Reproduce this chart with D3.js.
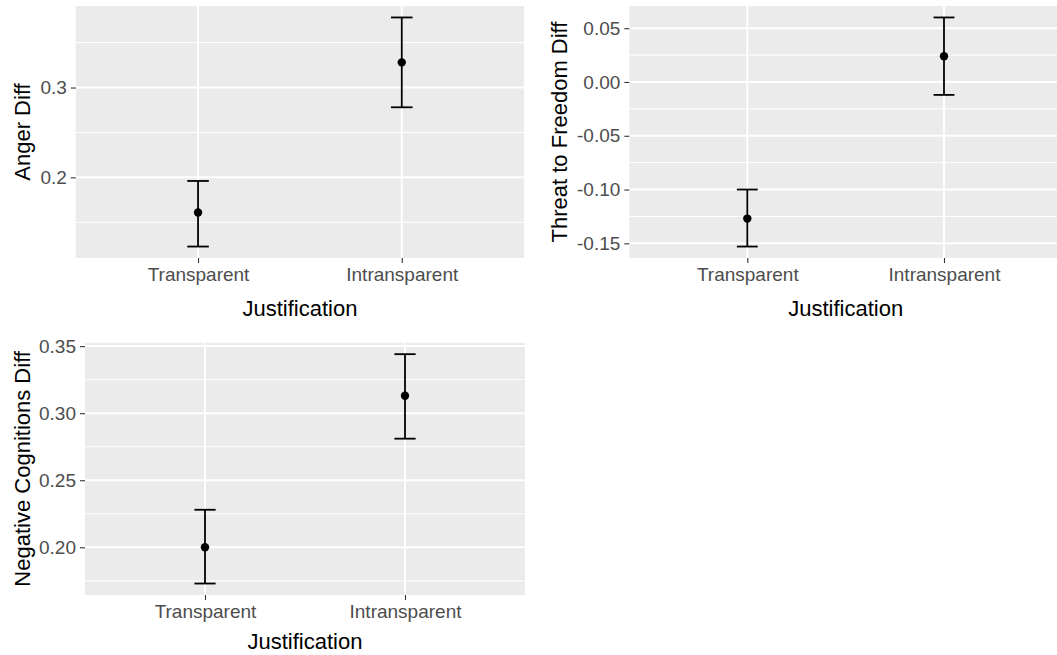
<!DOCTYPE html>
<html>
<head>
<meta charset="utf-8">
<script src="https://cdn.jsdelivr.net/npm/d3@7"></script>
<style>
  body { margin: 0; background: #fff; }
  svg { display: block; font-family: "Liberation Sans", Arial, sans-serif; }
</style>
</head>
<body>
<svg id="chart" width="1057" height="655"></svg>
<script>
// categories on the x axis (shared by all panels)
const categories = ["Transparent", "Intransparent"];

// Anger Diff
const angerMean = [0.161, 0.328];
const angerLow = [0.123, 0.278];
const angerHigh = [0.196, 0.378];
const angerTicks = [0.2, 0.3];

// Threat to Freedom Diff
const threatMean = [-0.127, 0.024];
const threatLow = [-0.153, -0.012];
const threatHigh = [-0.100, 0.060];
const threatTicks = [-0.15, -0.10, -0.05, 0.00, 0.05];

// Negative Cognitions Diff
const negMean = [0.200, 0.313];
const negLow = [0.173, 0.281];
const negHigh = [0.228, 0.344];
const negTicks = [0.20, 0.25, 0.30, 0.35];

const svg = d3.select("#chart");
const panelBg = "#EBEBEB";
const tickColor = "#333333";
const tickTextColor = "#4D4D4D";

function drawPanel(cfg) {
  const { left, right, top, bottom } = cfg;

  const rows = categories.map((c, i) => ({
    cat: c, mean: cfg.mean[i], lo: cfg.low[i], hi: cfg.high[i]
  }));

  const x = d3.scalePoint().domain(categories).range([left, right]).padding(0.6);

  // ggplot style 5% expansion
  const yMin = d3.min(rows, d => d.lo), yMax = d3.max(rows, d => d.hi);
  const pad = (yMax - yMin) * 0.05;
  const y = d3.scaleLinear().domain([yMin - pad, yMax + pad]).range([bottom, top]);

  const g = svg.append("g");

  g.append("rect")
    .attr("x", left).attr("y", top)
    .attr("width", right - left).attr("height", bottom - top)
    .attr("fill", panelBg);

  // minor grid lines halfway between the major ticks
  const step = cfg.ticks[1] - cfg.ticks[0];
  const minor = [];
  for (let k = -1; k < cfg.ticks.length; k++) {
    const v = cfg.ticks[0] + step * (k + 0.5);
    if (v > y.domain()[0] && v < y.domain()[1]) minor.push(v);
  }

  g.append("g").selectAll("line").data(minor).join("line")
    .attr("x1", left).attr("x2", right)
    .attr("y1", d => y(d)).attr("y2", d => y(d))
    .attr("stroke", "#fff").attr("stroke-width", 1);

  g.append("g").selectAll("line").data(cfg.ticks).join("line")
    .attr("x1", left).attr("x2", right)
    .attr("y1", d => y(d)).attr("y2", d => y(d))
    .attr("stroke", "#fff").attr("stroke-width", 2);

  g.append("g").selectAll("line").data(categories).join("line")
    .attr("x1", d => x(d)).attr("x2", d => x(d))
    .attr("y1", top).attr("y2", bottom)
    .attr("stroke", "#fff").attr("stroke-width", 2);

  // axes
  const fmt = d => d3.format(cfg.fmt)(d).replace("\u2212", "-");

  const yAxis = g.append("g")
    .attr("transform", `translate(${left},0)`)
    .call(d3.axisLeft(y).tickValues(cfg.ticks).tickFormat(fmt).tickSize(5).tickPadding(4));
  yAxis.select(".domain").remove();
  yAxis.selectAll(".tick line").attr("stroke", tickColor).attr("stroke-width", 1.1);
  yAxis.selectAll(".tick text")
    .attr("fill", tickTextColor).attr("font-size", 19)
    .attr("font-family", "Liberation Sans, Arial, sans-serif");

  const xAxis = g.append("g")
    .attr("transform", `translate(0,${bottom})`)
    .call(d3.axisBottom(x).tickSize(5).tickPadding(5));
  xAxis.select(".domain").remove();
  xAxis.selectAll(".tick line").attr("stroke", tickColor).attr("stroke-width", 1.1);
  xAxis.selectAll(".tick text")
    .attr("fill", tickTextColor).attr("font-size", 19)
    .attr("font-family", "Liberation Sans, Arial, sans-serif");

  // titles
  g.append("text")
    .attr("x", (left + right) / 2).attr("y", bottom + cfg.xTitleGap)
    .attr("text-anchor", "middle")
    .attr("font-size", 22).attr("fill", "#000")
    .text("Justification");

  g.append("text")
    .attr("transform", `translate(${cfg.titleX},${(top + bottom) / 2}) rotate(-90)`)
    .attr("text-anchor", "middle")
    .attr("font-size", 22).attr("fill", "#000")
    .text(cfg.title);

  // error bars (width 0.1 of the category spacing)
  const capHalf = x.step() * 0.053;
  const bars = g.append("g").attr("stroke", "#000").attr("stroke-width", 1.8).attr("fill", "none");
  bars.selectAll(".v").data(rows).join("line")
    .attr("x1", d => x(d.cat)).attr("x2", d => x(d.cat))
    .attr("y1", d => y(d.lo)).attr("y2", d => y(d.hi));
  bars.selectAll(".hi").data(rows).join("line")
    .attr("x1", d => x(d.cat) - capHalf).attr("x2", d => x(d.cat) + capHalf)
    .attr("y1", d => y(d.hi)).attr("y2", d => y(d.hi));
  bars.selectAll(".lo").data(rows).join("line")
    .attr("x1", d => x(d.cat) - capHalf).attr("x2", d => x(d.cat) + capHalf)
    .attr("y1", d => y(d.lo)).attr("y2", d => y(d.lo));

  g.append("g").selectAll("circle").data(rows).join("circle")
    .attr("cx", d => x(d.cat)).attr("cy", d => y(d.mean))
    .attr("r", 4.2).attr("fill", "#000");
}

drawPanel({
  left: 75.8, right: 524, top: 6, bottom: 258, titleX: 30, xTitleGap: 58,
  mean: angerMean, low: angerLow, high: angerHigh, ticks: angerTicks,
  fmt: ".1f", title: "Anger Diff"
});

drawPanel({
  left: 629.3, right: 1062, top: 6, bottom: 258, titleX: 567, xTitleGap: 58,
  mean: threatMean, low: threatLow, high: threatHigh, ticks: threatTicks,
  fmt: ".2f", title: "Threat to Freedom Diff"
});

drawPanel({
  left: 85, right: 525, top: 342.7, bottom: 595, titleX: 30, xTitleGap: 54,
  mean: negMean, low: negLow, high: negHigh, ticks: negTicks,
  fmt: ".2f", title: "Negative Cognitions Diff"
});
</script>
</body>
</html>
